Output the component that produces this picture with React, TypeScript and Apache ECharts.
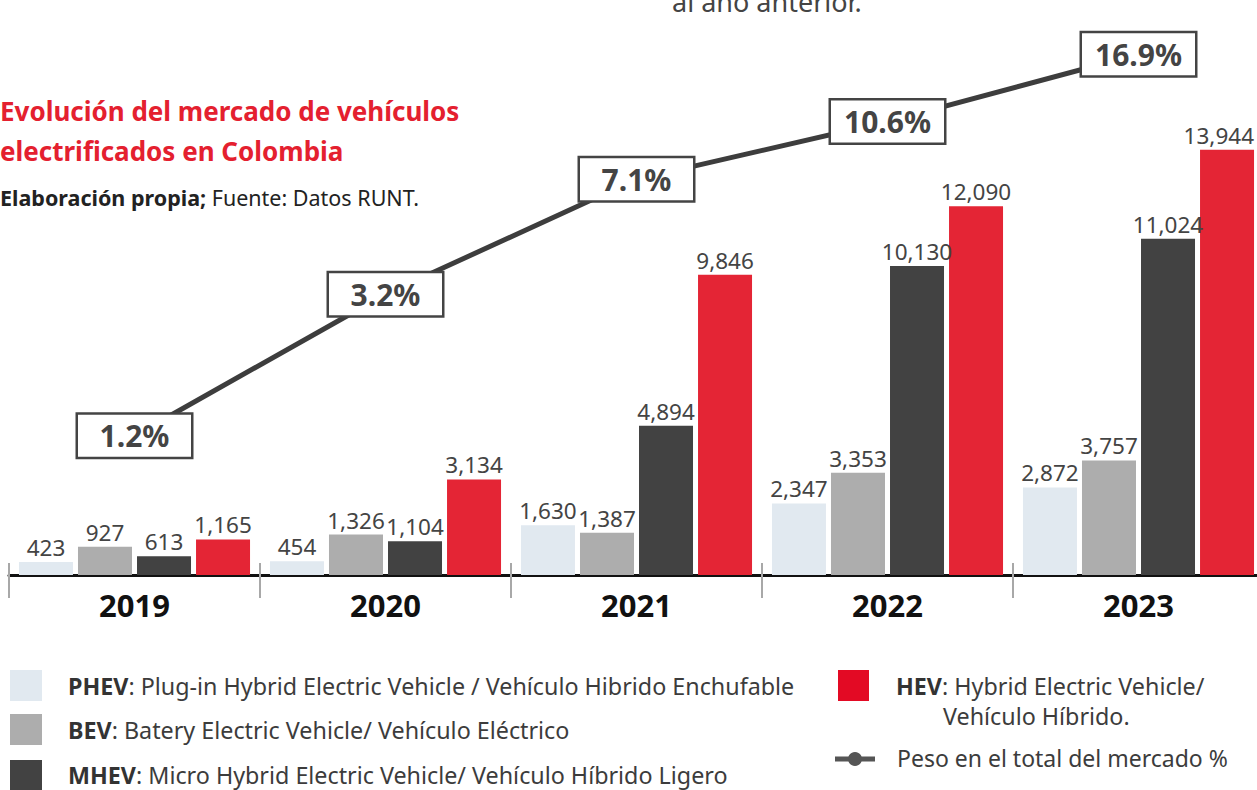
import React, { useEffect, useRef } from "react";
import * as echarts from "echarts";

const years = ["2019", "2020", "2021", "2022", "2023"];
const phev = [423, 454, 1630, 2347, 2872];
const bev = [927, 1326, 1387, 3353, 3757];
const mhev = [613, 1104, 4894, 10130, 11024];
const hev = [1165, 3134, 9846, 12090, 13944];
const share = [1.2, 3.2, 7.1, 10.6, 16.9];

const seriesNames = ["PHEV", "BEV", "MHEV", "HEV"];
const seriesData = [phev, bev, mhev, hev];
const barColors = ["#e1e9f0", "#adadad", "#424242", "#e42535"];
const legendDesc = [
  ": Plug-in Hybrid Electric Vehicle / Vehículo Hibrido Enchufable",
  ": Batery Electric Vehicle/ Vehículo Eléctrico",
  ": Micro Hybrid Electric Vehicle/ Vehículo Híbrido Ligero",
  ": Hybrid Electric Vehicle/",
];
const lineName = "Peso en el total del mercado %";

const FONT = "'Noto Sans', 'Open Sans', sans-serif";
const LEG = 23.3;
const CHART_W = 1257;

export default function App() {
  const ref = useRef<HTMLDivElement>(null);
  useEffect(() => {
    document.body.style.margin = "0";
    if (!ref.current) return;
    const chart = echarts.init(ref.current, null, { renderer: "svg" });

    const bars = seriesNames.map((name, i) => ({
      name,
      type: "bar",
      xAxisIndex: 0,
      yAxisIndex: 0,
      data: seriesData[i],
      barWidth: 54,
      barGap: "9.3%",
      itemStyle: { color: barColors[i] },
      label: {
        show: true,
        position: "top",
        distance: 3,
        fontSize: 22.5,
        fontFamily: FONT,
        color: "#444",
        formatter: (p: any) => Number(p.value).toLocaleString("en-US"),
      },
      labelLayout: (params: any) => {
        const r = params.labelRect;
        const over = r.x + r.width - (CHART_W - 3);
        return { dx: over > 0 ? -over : 0 };
      },
    }));

    const legendText = (x: number, y: number, key: string, desc: string) => ({
      type: "text",
      x,
      y,
      style: {
        text: `{b|${key}}{n|${desc}}`,
        fontSize: LEG,
        fontFamily: FONT,
        fill: "#333",
        verticalAlign: "middle",
        rich: {
          b: { fontWeight: "bold", fontSize: LEG, fontFamily: FONT, fill: "#333" },
          n: { fontSize: LEG, fontFamily: FONT, fill: "#3c3c3c" },
        },
      },
    });

    const option: any = {
      animation: false,
      backgroundColor: "#ffffff",
      grid: [
        { left: 9, top: 148, width: 1255, height: 427, outerBoundsMode: "none", containLabel: false },
        { left: 9, top: 30, width: 1255, height: 432, outerBoundsMode: "none", containLabel: false },
      ],
      xAxis: [
        {
          type: "category",
          gridIndex: 0,
          data: years,
          axisLine: { lineStyle: { color: "#111", width: 3 } },
          axisTick: { show: true, length: 23, lineStyle: { color: "#a8a8a8", width: 2 } },
          axisLabel: {
            fontSize: 31,
            fontWeight: "bold",
            fontFamily: FONT,
            color: "#111",
            margin: 14,
          },
        },
        {
          type: "category",
          gridIndex: 0,
          data: years,
          position: "bottom",
          axisLine: { show: false },
          axisLabel: { show: false },
          axisTick: { show: true, inside: true, length: 12, lineStyle: { color: "#a8a8a8", width: 2 } },
        },
        {
          type: "category",
          gridIndex: 1,
          data: years,
          show: false,
        },
      ],
      yAxis: [
        { type: "value", gridIndex: 0, min: 0, max: 14000, show: false, splitLine: { show: false } },
        { type: "log", gridIndex: 1, min: 1, max: 20, show: false, splitLine: { show: false } },
      ],
      series: [
        ...bars,
        {
          name: lineName,
          type: "line",
          xAxisIndex: 2,
          yAxisIndex: 1,
          data: share,
          symbol: "circle",
          symbolSize: 1,
          clip: false,
          z: 10,
          itemStyle: { color: "#3d3d3d" },
          lineStyle: { color: "#3d3d3d", width: 5 },
          label: {
            show: true,
            position: "inside",
            formatter: (p: any) => `${Number(p.value).toFixed(1)}%`,
            fontSize: 30,
            fontWeight: "bold",
            fontFamily: FONT,
            color: "#444",
            backgroundColor: "#fff",
            borderColor: "#444",
            borderWidth: 2.5,
            width: 105,
            height: 36,
            lineHeight: 36,
            align: "center",
            verticalAlign: "middle",
            padding: [3, 4],
          },
        },
      ],
      graphic: [
        {
          type: "text",
          x: 672,
          y: 1,
          style: {
            text: "al año anterior.",
            fontSize: 27,
            fontFamily: FONT,
            fill: "#444",
            verticalAlign: "middle",
          },
        },
        {
          type: "text",
          x: 0,
          y: 111,
          style: {
            text: "Evolución del mercado de vehículos",
            fontSize: 26,
            fontWeight: "bold",
            fontFamily: FONT,
            fill: "#e4202f",
            verticalAlign: "middle",
          },
        },
        {
          type: "text",
          x: 0,
          y: 151,
          style: {
            text: "electrificados en Colombia",
            fontSize: 26,
            fontWeight: "bold",
            fontFamily: FONT,
            fill: "#e4202f",
            verticalAlign: "middle",
          },
        },
        {
          type: "text",
          x: 0,
          y: 197,
          style: {
            text: "{b|Elaboración propia;} {n|Fuente: Datos RUNT.}",
            fontSize: 21.5,
            fontFamily: FONT,
            fill: "#222",
            verticalAlign: "middle",
            rich: {
              b: { fontWeight: "bold", fontSize: 21.5, fontFamily: FONT, fill: "#222" },
              n: { fontSize: 21.5, fontFamily: FONT, fill: "#222" },
            },
          },
        },
        // legend swatches
        { type: "rect", shape: { x: 10, y: 670, width: 32, height: 31 }, style: { fill: barColors[0] } },
        { type: "rect", shape: { x: 10, y: 714, width: 32, height: 31 }, style: { fill: barColors[1] } },
        { type: "rect", shape: { x: 10, y: 760, width: 32, height: 31 }, style: { fill: barColors[2] } },
        { type: "rect", shape: { x: 838, y: 670, width: 31, height: 31 }, style: { fill: "#e30a24" } },
        legendText(68, 686, seriesNames[0], legendDesc[0]),
        legendText(68, 730, seriesNames[1], legendDesc[1]),
        legendText(68, 775, seriesNames[2], legendDesc[2]),
        legendText(896, 686, seriesNames[3], legendDesc[3]),
        {
          type: "text",
          x: 943,
          y: 716,
          style: { text: "Vehículo Híbrido.", fontSize: LEG, fontFamily: FONT, fill: "#3c3c3c", verticalAlign: "middle" },
        },
        {
          type: "line",
          shape: { x1: 835, y1: 759, x2: 875, y2: 759 },
          style: { stroke: "#555", lineWidth: 5 },
        },
        { type: "circle", shape: { cx: 855, cy: 759, r: 7 }, style: { fill: "#555" } },
        {
          type: "text",
          x: 897,
          y: 758,
          style: { text: lineName, fontSize: 23, fontFamily: FONT, fill: "#3c3c3c", verticalAlign: "middle" },
        },
      ],
    };

    chart.setOption(option);
    return () => chart.dispose();
  }, []);

  return <div ref={ref} style={{ width: 1257, height: 790 }} />;
}
